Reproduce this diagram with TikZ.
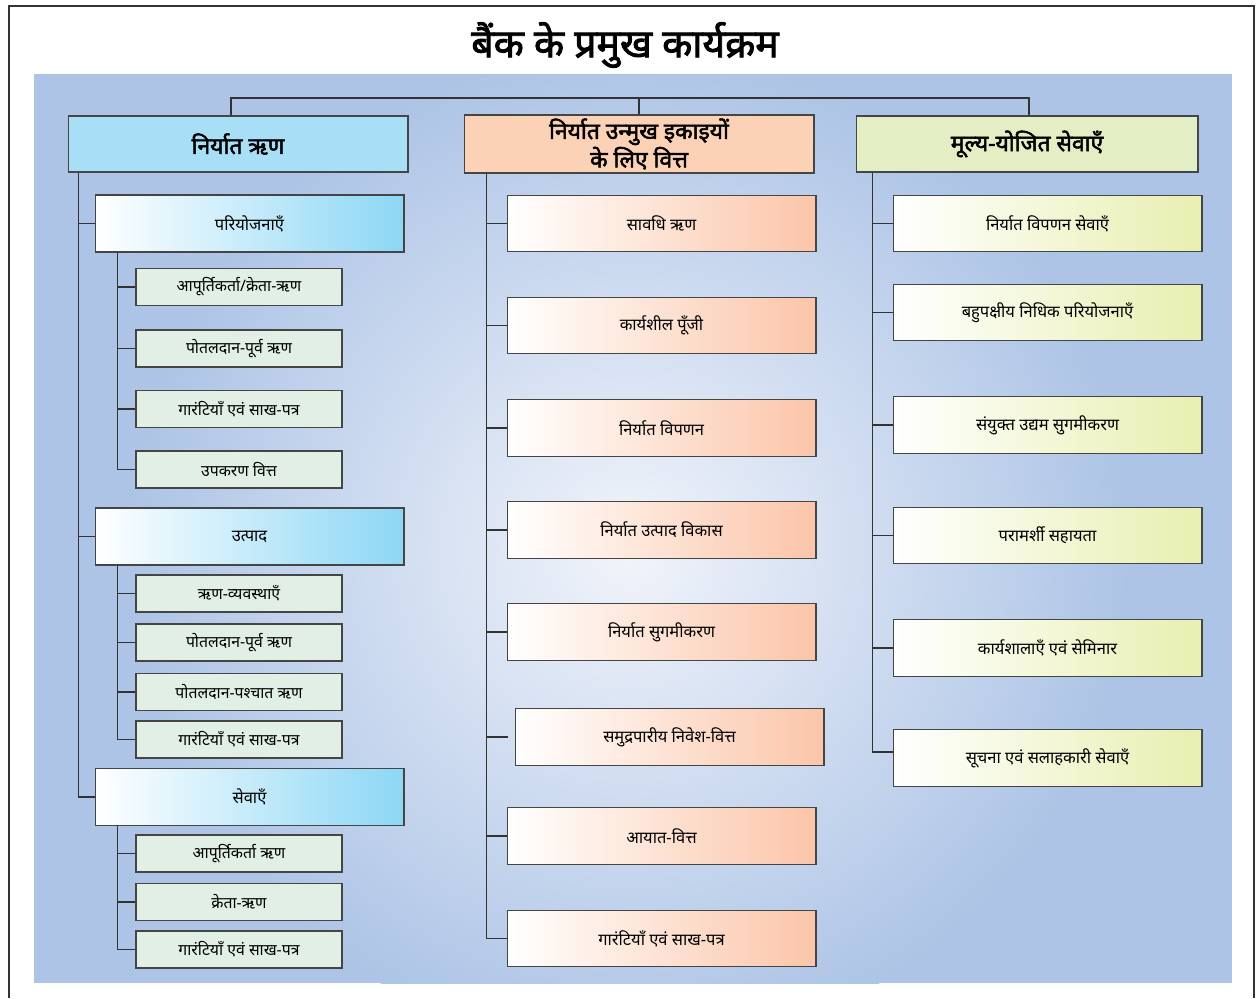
\documentclass[tikz,border=0pt]{standalone}
\usepackage{fontspec}
\setmainfont[Script=Devanagari]{Noto Sans}
\newfontfamily\negrita[Script=Devanagari, FakeBold=2.2]{Noto Sans}
\definecolor{fondo}{HTML}{ADC4E6}
\definecolor{fondoclaro}{HTML}{F1F4FA}
\definecolor{linea}{HTML}{333333}
\definecolor{borde}{HTML}{454545}
\definecolor{celeste}{HTML}{A8DEF6}
\definecolor{celestefin}{HTML}{8CD7F5}
\definecolor{hojaverde}{HTML}{E1EFE4}
\definecolor{durazno}{HTML}{FCD2B7}
\definecolor{duraznofin}{HTML}{FBC5A8}
\definecolor{limon}{HTML}{E4EEC4}
\definecolor{limonfin}{HTML}{E8EFB0}
\tikzset{
  caja/.style={draw=borde, line width=0.6pt, inner sep=2pt, align=center},
  cabeza/.style={caja, minimum height=1.12cm, font=\fontsize{13}{14}\selectfont\negrita},
  tema/.style={caja, minimum width=6.18cm, minimum height=1.14cm, left color=white, right color=celestefin, font=\fontsize{9.4}{11}\selectfont},
  hoja/.style={caja, fill=hojaverde, minimum width=4.12cm, minimum height=0.74cm, font=\fontsize{9}{11}\selectfont},
  medio/.style={caja, minimum width=6.18cm, minimum height=1.13cm, left color=white, right color=duraznofin, font=\fontsize{9.4}{11}\selectfont},
  derecha/.style={caja, minimum width=6.18cm, minimum height=1.13cm, left color=white, right color=limonfin, font=\fontsize{9.4}{11}\selectfont},
  rama/.style={draw=linea, line width=0.85pt}
}
\begin{document}
\begin{tikzpicture}[x=0.02cm, y=-0.02cm]
    \useasboundingbox (0,0) rectangle (1256,998);
    % Marco
    \draw[linea, line width=0.8pt] (9,998) |- (1254,6) -- (1254,998);
    % Fondo
    \fill[fondo] (34,74) rectangle (1232,983);
    \begin{scope}
        \clip (34,74) rectangle (1232,983);
        \shade[inner color=fondoclaro, outer color=fondo] (630,550) circle (10cm);
    \end{scope}

    % Titulo
    \node[font=\fontsize{22.3}{26}\selectfont\negrita] (titulo) at (625,45) {बैंक के प्रमुख कार्यक्रम};

    % Encabezados
    \node[cabeza, fill=celeste, minimum width=6.8cm] (ne) at (238,144) {निर्यात ऋण};
    \node[cabeza, fill=durazno, minimum width=7cm] (ou) at (639,144) {निर्यात उन्मुख इकाइयों\\के लिए वित्त};
    \node[cabeza, fill=limon, minimum width=6.84cm] (mv) at (1027,144) {मूल्य-योजित सेवाएँ};
    \coordinate (arriba) at (0,98);
    \coordinate (netope) at ([xshift=-0.14cm]ne.north);
    \coordinate (mvtope) at ([xshift=0.04cm]mv.north);
    \draw[rama] (netope) |- (arriba -| mvtope) -- (mvtope);
    \draw[rama] (ou.north) -- (ou.north |- arriba);

    % Columna izquierda
    \node[tema] (pr) at (249.5,223.5) {परियोजनाएँ};
    \node[tema] (ut) at (249.5,536.5) {उत्पाद};
    \node[tema] (se) at (249.5,797) {सेवाएँ};
    \draw[rama] ([xshift=0.22cm]ne.south west) |- (pr.west);
    \draw[rama] ([xshift=0.22cm]ne.south west) |- (ut.west);
    \draw[rama] ([xshift=0.22cm]ne.south west) |- (se.west);

    \node[hoja] (pr1) at (239,287) {आपूर्तिकर्ता/क्रेता-ऋण};
    \node[hoja] (pr2) at (239,348.5) {पोतलदान-पूर्व ऋण};
    \node[hoja] (pr3) at (239,409) {गारंटियाँ एवं साख-पत्र};
    \node[hoja] (pr4) at (239,469.5) {उपकरण वित्त};
    \draw[rama] ([xshift=0.46cm]pr.south west) |- (pr1.west);
    \draw[rama] ([xshift=0.46cm]pr.south west) |- (pr2.west);
    \draw[rama] ([xshift=0.46cm]pr.south west) |- (pr3.west);
    \draw[rama] ([xshift=0.46cm]pr.south west) |- (pr4.west);

    \node[hoja] (ut1) at (239,593.5) {ऋण-व्यवस्थाएँ};
    \node[hoja] (ut2) at (239,642.5) {पोतलदान-पूर्व ऋण};
    \node[hoja] (ut3) at (239,692) {पोतलदान-पश्चात ऋण};
    \node[hoja] (ut4) at (239,739.5) {गारंटियाँ एवं साख-पत्र};
    \draw[rama] ([xshift=0.46cm]ut.south west) |- (ut1.west);
    \draw[rama] ([xshift=0.46cm]ut.south west) |- (ut2.west);
    \draw[rama] ([xshift=0.46cm]ut.south west) |- (ut3.west);
    \draw[rama] ([xshift=0.46cm]ut.south west) |- (ut4.west);

    \node[hoja] (se1) at (239,853.5) {आपूर्तिकर्ता ऋण};
    \node[hoja] (se2) at (239,902) {क्रेता-ऋण};
    \node[hoja] (se3) at (239,949.5) {गारंटियाँ एवं साख-पत्र};
    \draw[rama] ([xshift=0.46cm]se.south west) |- (se1.west);
    \draw[rama] ([xshift=0.46cm]se.south west) |- (se2.west);
    \draw[rama] ([xshift=0.46cm]se.south west) |- (se3.west);

    % Columna central
    \node[medio] (ou1) at (661.5,223.5) {सावधि ऋण};
    \node[medio] (ou2) at (661.5,325.5) {कार्यशील पूँजी};
    \node[medio] (ou3) at (661.5,428) {निर्यात विपणन};
    \node[medio] (ou4) at (661.5,530) {निर्यात उत्पाद विकास};
    \node[medio] (ou5) at (661.5,632) {निर्यात सुगमीकरण};
    \node[medio] (ou6) at (669.5,737) {समुद्रपारीय निवेश-वित्त};
    \node[medio] (ou7) at (661.5,836) {आयात-वित्त};
    \node[medio] (ou8) at (661.5,938.5) {गारंटियाँ एवं साख-पत्र};
    \draw[rama] ([xshift=0.46cm]ou.south west) |- (ou1.west);
    \draw[rama] ([xshift=0.46cm]ou.south west) |- (ou2.west);
    \draw[rama] ([xshift=0.46cm]ou.south west) |- (ou3.west);
    \draw[rama] ([xshift=0.46cm]ou.south west) |- (ou4.west);
    \draw[rama] ([xshift=0.46cm]ou.south west) |- (ou5.west);
    \draw[rama] ([xshift=0.46cm]ou.south west) |- ([xshift=-0.14cm]ou6.west);
    \draw[rama] ([xshift=0.46cm]ou.south west) |- (ou7.west);
    \draw[rama] ([xshift=0.46cm]ou.south west) |- (ou8.west);

    % Columna derecha
    \node[derecha] (mv1) at (1047.5,223.5) {निर्यात विपणन सेवाएँ};
    \node[derecha] (mv2) at (1047.5,312.5) {बहुपक्षीय निधिक परियोजनाएँ};
    \node[derecha] (mv3) at (1047.5,425) {संयुक्त उद्यम सुगमीकरण};
    \node[derecha] (mv4) at (1047.5,535.5) {परामर्शी सहायता};
    \node[derecha] (mv5) at (1047.5,648) {कार्यशालाएँ एवं सेमिनार};
    \node[derecha] (mv6) at (1047.5,758) {सूचना एवं सलाहकारी सेवाएँ};
    \draw[rama] ([xshift=0.34cm]mv.south west) |- (mv1.west);
    \draw[rama] ([xshift=0.34cm]mv.south west) |- (mv2.west);
    \draw[rama] ([xshift=0.34cm]mv.south west) |- (mv3.west);
    \draw[rama] ([xshift=0.34cm]mv.south west) |- (mv4.west);
    \draw[rama] ([xshift=0.34cm]mv.south west) |- (mv5.west);
    \draw[rama] ([xshift=0.34cm]mv.south west) |- ([yshift=0.12cm]mv6.west);
\end{tikzpicture}
\end{document}
